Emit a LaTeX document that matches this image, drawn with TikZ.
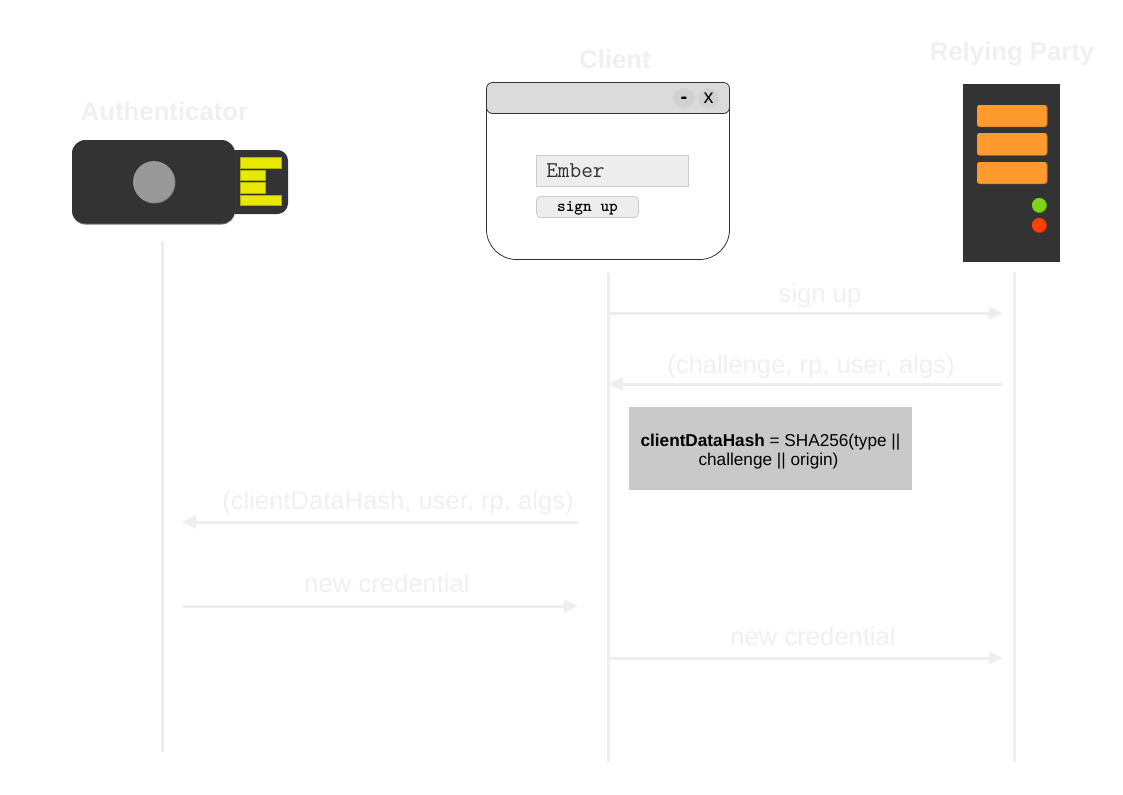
\documentclass[tikz,border=0pt]{standalone}
\usepackage{fontspec}
\setmainfont{Liberation Sans}
\usetikzlibrary{arrows.meta}
\definecolor{pale}{HTML}{F0F0F0}
\definecolor{paleline}{HTML}{EEEEEE}
\definecolor{darkbody}{HTML}{333333}
\definecolor{contact}{HTML}{E8E800}
\definecolor{orangebar}{HTML}{FF9A2E}
\definecolor{ledgreen}{HTML}{80D316}
\definecolor{ledred}{HTML}{FF4000}
\tikzset{
    actor/.style={anchor=base,text=pale,font=\fontsize{19.3}{24}\selectfont\bfseries},
    msg/.style={anchor=base,text=pale,font=\fontsize{19.2}{24}\selectfont},
    lifeline/.style={draw=paleline,line width=2.25pt},
    flow/.style={draw=paleline,line width=2.25pt,-{Triangle[length=10.5pt,width=9.5pt]}},
    contactbar/.style={fill=contact,draw=contact!75!black,line width=0.3pt},
    serverbar/.style={fill=orangebar,rounded corners=2pt},
    winbutton/.style={fill=black!18,draw=none},
}
\begin{document}
\begin{tikzpicture}[x=0.75pt,y=-0.75pt]
    \useasboundingbox (0,0) rectangle (1123,794);
    % titles
    \node[actor] (authTitle) at (164.5,120.5) {Authenticator};
    \node[actor] (clientTitle) at (615,68.5) {Client};
    \node[actor] (rpTitle) at (1012,60.5) {Relying Party};
    % usb key
    \fill[darkbody,rounded corners=8pt] (225,150) rectangle (288,214);
    \fill[black!55,rounded corners=10pt] (72,141) rectangle (235,224.5);
    \fill[darkbody,rounded corners=10pt] (72,140) rectangle (235,223.5);
    \fill[black!50] (154.5,182.5) circle (21);
    \fill[black!40] (153.8,181.8) circle (20.7);
    \draw[contactbar] (240,157) rectangle (281.5,167.7);
    \draw[contactbar] (240,170) rectangle (265.5,180);
    \draw[contactbar] (240,182.3) rectangle (265.5,192.7);
    \draw[contactbar] (240,194.7) rectangle (281.5,205.5);
    % browser window
    \draw[fill=white,draw=darkbody,line width=0.6pt,rounded corners=22.5pt] (486.5,100) -- (486.5,259.5) -- (729.5,259.5) -- (729.5,100);
    \draw[fill=black!14,draw=darkbody,line width=0.6pt,rounded corners=4.5pt] (486.5,82.5) rectangle (729.5,113.5);
    \node[winbutton,circle,minimum size=15.5pt,inner sep=0pt] (minBtn) at (684,98.5) {};
    \node[winbutton,circle,minimum size=15.5pt,inner sep=0pt] (closeBtn) at (708.5,98.5) {};
    \node[font=\bfseries\fontsize{15}{18}\selectfont,yshift=-1.5pt] at (minBtn) {-};
    \node[font=\fontsize{15}{18}\selectfont] at (closeBtn) {x};
    \draw[fill=black!7,draw=black!20,line width=0.6pt] (536.5,155.5) rectangle (688.5,186);
    \node[anchor=base west,inner sep=0pt,font=\ttfamily\fontsize{17}{20}\selectfont,text=black!80] (nameField) at (546,177) {Ember};
    \draw[fill=black!7,draw=black!20,line width=0.6pt,rounded corners=3pt] (536.5,196.5) rectangle (638.5,217.5);
    \node[anchor=base,inner sep=0pt,font=\ttfamily\bfseries\fontsize{12.4}{14}\selectfont] (signBtn) at (587.5,211) {sign up};
    % server
    \fill[darkbody] (963,83.5) rectangle (1060,262);
    \foreach \ya/\yb in {105/127,133/155.5,162/184} {
        \fill[orangebar!75!black,rounded corners=2pt] (977,\ya) rectangle (1047.5,\yb);
        \fill[serverbar] (977,\ya) rectangle (1046.5,\yb-0.5);
    }
    \fill[ledgreen!75!black] (1039.5,205.5) circle (7.5);
    \fill[ledgreen] (1039,205) circle (7);
    \fill[ledred!75!black] (1039.5,225.5) circle (7.5);
    \fill[ledred] (1039,225) circle (7);
    % lifelines
    \coordinate (authTop) at (162,241);
    \coordinate (authEnd) at (162,752);
    \coordinate (clientTop) at (608,273);
    \coordinate (clientEnd) at (608,762);
    \coordinate (rpTop) at (1014,272);
    \coordinate (rpEnd) at (1014,762);
    \draw[lifeline] (authTop) -- (authEnd);
    \draw[lifeline] (clientTop) -- (clientEnd);
    \draw[lifeline] (rpTop) -- (rpEnd);
    % messages
    \coordinate (c1) at (609,313);
    \coordinate (r1) at (1003,313);
    \coordinate (c2) at (609,384);
    \coordinate (r2) at (1003,384);
    \coordinate (c3) at (578,522);
    \coordinate (a3) at (182,522);
    \coordinate (a4) at (183,606);
    \coordinate (c4) at (578,606);
    \coordinate (c5) at (609,658);
    \coordinate (r5) at (1003,658);
    \draw[flow] (c1) -- (r1);
    \node[msg] (signupLabel) at (820,302) {sign up};
    \draw[flow] (r2) -- (c2);
    \node[msg] (challengeLabel) at (811,373) {(challenge, rp, user, algs)};
    \draw[flow] (c3) -- (a3);
    \node[msg] (hashLabel) at (398,509) {(clientDataHash, user, rp, algs)};
    \draw[flow] (a4) -- (c4);
    \node[msg] (credLabel) at (387,592) {new credential};
    \draw[flow] (c5) -- (r5);
    \node[msg] (credLabelTwo) at (813,645) {new credential};
    % hash box
    \node[fill=black!21,minimum width=212.5pt,minimum height=62.5pt,inner sep=0pt,align=center,font=\fontsize{12.9}{14.3}\selectfont] (hashBox) at (770.5,448.5) {\rule{0pt}{14pt}\textbf{clientDataHash} = SHA256(type ||\\[0pt]challenge || origin)\hspace*{3pt}};
\end{tikzpicture}
\end{document}
